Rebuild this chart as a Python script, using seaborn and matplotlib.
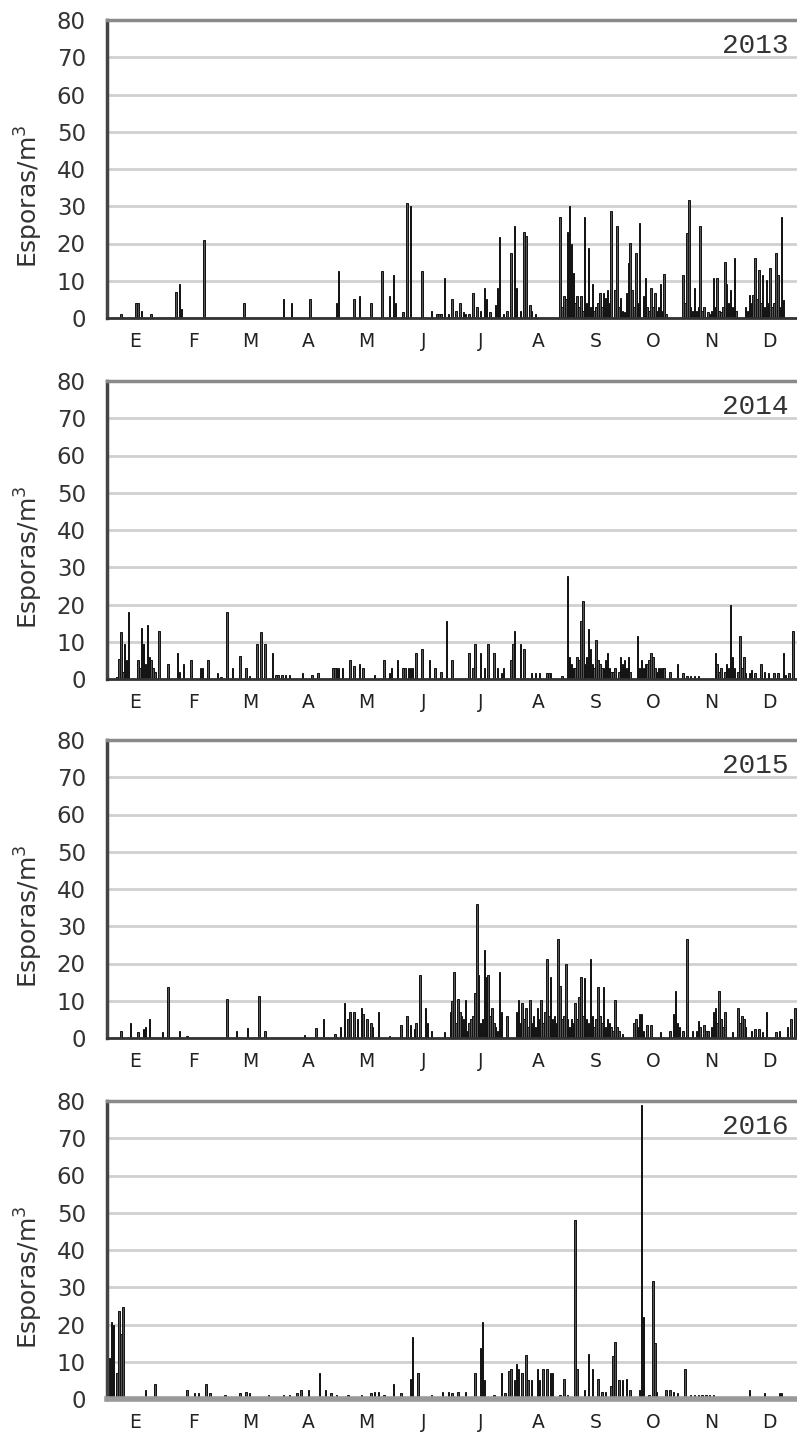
import numpy as np
import pandas as pd
import matplotlib
matplotlib.use("Agg")
import matplotlib.pyplot as plt
import seaborn as sns

years = [2013, 2014, 2015, 2016]
months = ["E", "F", "M", "A", "M", "J", "J", "A", "S", "O", "N", "D"]
n_days = 365

# daily counts (day of year, spores/m3); days not listed had no count
days_2013 = [7, 15, 16, 18, 23, 36, 38, 39, 51, 72, 93, 97, 107, 121, 122, 130, 133, 139,
             145, 149, 151, 152, 156, 158, 160, 166, 171, 174, 175, 176, 178, 180, 182, 184,
             186, 188, 189, 191, 193, 195, 197, 199, 200, 202, 205, 206, 207, 209, 211, 213,
             215, 216, 218, 220, 221, 223, 224, 226, 239, 240, 241, 242, 243, 244, 245, 246,
             247, 248, 249, 250, 251, 252, 253, 254, 255, 256, 257, 258, 259, 260, 261, 262,
             263, 264, 265, 266, 268, 269, 270, 271, 272, 273, 274, 275, 276, 277, 278, 279,
             280, 281, 283, 284, 285, 286, 287, 288, 289, 290, 291, 292, 293, 294, 295, 304,
             305, 306, 307, 308, 309, 310, 311, 312, 313, 314, 315, 317, 318, 319, 320, 321,
             322, 323, 324, 325, 326, 327, 328, 329, 330, 331, 332, 337, 338, 339, 340, 341,
             342, 343, 344, 345, 346, 347, 348, 349, 350, 351, 352, 353, 354, 355, 356, 357]
vals_2013 = [1, 4, 4, 2, 1, 7, 9, 2.5, 21, 4, 5, 4, 5, 4, 12.7, 5, 6, 4,
             12.7, 6, 11.6, 4, 1.7, 31, 30, 12.7, 2, 1, 1, 1, 10.7, 1, 5, 2,
             4, 1.5, 1, 1, 6.7, 3, 2, 8, 5, 1.5, 3.5, 8, 21.8, 1, 2, 17.5,
             24.7, 8, 2, 23, 22, 3.5, 2, 1, 27.2, 3, 6, 5, 23, 30, 20, 12,
             4, 6, 3, 6, 2, 27.2, 4, 18.8, 3, 9, 2, 3, 4, 6.7, 3, 6.7,
             5.3, 7.6, 4, 28.7, 7.6, 24.7, 3, 5.3, 2, 1.5, 6.7, 14.8, 20.2, 7.6, 3, 17.5,
             4, 25.6, 5.8, 10.7, 3, 2, 8, 3, 6.7, 2, 3, 9, 2, 11.9, 1, 11.6,
             4, 22.9, 31.7, 3, 2, 8, 2, 3, 24.7, 2, 3, 1.7, 1, 2, 10.7, 3,
             10.7, 2, 1.5, 3, 15, 9, 4, 7.6, 3, 16.1, 2, 3, 2, 6.2, 4, 6.2,
             16.1, 5, 13, 4, 11.6, 3, 10.3, 4, 13.4, 3, 4, 17.5, 11.6, 3, 27.2, 4.9]

days_2014 = [5, 6, 7, 8, 9, 10, 11, 16, 17, 18, 19, 20, 21, 22, 23, 24, 25, 27, 32, 37,
             38, 40, 44, 49, 50, 53, 58, 60, 63, 66, 70, 73, 75, 79, 81, 83, 87, 89, 90, 92,
             94, 96, 103, 108, 111, 119, 120, 121, 122, 124, 128, 130, 133, 135, 141, 146,
             149, 150, 153, 156, 157, 159, 160, 161, 163, 166, 170, 173, 176, 179, 182, 191,
             193, 194, 197, 199, 201, 204, 206, 208, 209, 213, 214, 215, 218, 220, 224, 226,
             228, 232, 233, 234, 240, 243, 244, 245, 246, 247, 248, 249, 250, 251, 252, 253,
             254, 255, 256, 257, 258, 259, 260, 261, 262, 263, 264, 265, 266, 267, 268, 270,
             271, 272, 273, 274, 275, 276, 280, 281, 282, 283, 284, 285, 286, 287, 288, 289,
             290, 291, 292, 293, 294, 297, 301, 304, 306, 308, 310, 312, 321, 322, 323, 324,
             326, 327, 328, 329, 330, 331, 333, 334, 335, 336, 337, 339, 340, 342, 345, 347,
             349, 352, 354, 357, 358, 360, 362]
vals_2014 = [0.5, 5.3, 12.6, 2, 9.5, 5, 18.1, 5, 3, 13.8, 9.5, 4, 14.6, 6, 5, 3, 2, 12.9, 4, 7,
             2, 4, 5, 3, 3, 5, 1.5, 0.5, 18.1, 3, 6.3, 3, 0.8, 9.5, 12.7, 9.5, 7.1, 1, 1, 1,
             1, 1, 1.5, 1, 1.5, 3, 3, 3, 3, 3, 5, 3.5, 4, 3, 1, 5,
             1.5, 3, 5, 3, 3, 3, 3, 3, 7, 8, 5, 3, 2, 15.7, 5, 7,
             3, 9.5, 7, 3, 9.5, 7, 3, 1.5, 3, 5, 9.5, 12.9, 9.5, 8, 1.5, 1.5,
             1.5, 1.5, 1.5, 1.5, 0.8, 27.6, 6, 4, 3, 3, 6, 5, 15.5, 20.9, 4, 6,
             13.4, 8, 4, 3, 10.5, 5, 4, 3, 3, 5, 7, 3, 2, 2, 3, 2,
             6, 4, 5, 3, 6, 2, 11.6, 3, 5, 3, 4, 4, 5, 7, 6, 3,
             2, 3, 3, 3, 3, 2, 4, 1.5, 0.8, 0.8, 0.8, 0.8, 7, 4, 2, 3,
             2, 4, 3, 20, 6, 3, 2, 11.6, 3, 6, 1.5, 1.5, 2.5, 1.5, 4, 2,
             1.5, 1.5, 1.5, 7, 1, 1.5, 12.9]

days_2015 = [7, 12, 16, 19, 20, 22, 29, 32, 38, 42, 63, 68, 74, 80, 83, 104, 110, 114, 120,
             123, 125, 127, 128, 130, 132, 134, 135, 137, 139, 140, 143, 149, 155, 158, 160,
             162, 163, 165, 168, 169, 171, 178, 181, 182, 183, 184, 185, 186, 187, 188, 189,
             190, 191, 192, 193, 194, 195, 196, 197, 198, 199, 200, 201, 202, 203, 204, 205,
             206, 207, 208, 211, 216, 217, 218, 219, 220, 221, 222, 223, 224, 225, 226, 227,
             228, 229, 230, 231, 232, 233, 234, 235, 236, 237, 238, 239, 240, 241, 242, 243,
             244, 245, 246, 247, 248, 249, 250, 251, 252, 253, 254, 255, 256, 257, 258, 259,
             260, 261, 262, 263, 264, 265, 266, 267, 268, 269, 270, 272, 278, 279, 280, 281,
             282, 283, 285, 287, 292, 297, 299, 300, 301, 302, 304, 306, 309, 311, 312, 313,
             315, 316, 317, 319, 320, 321, 322, 323, 324, 325, 326, 330, 333, 334, 335, 336,
             337, 340, 342, 344, 346, 348, 353, 355, 359, 361, 363]
vals_2015 = [1.8, 4, 1.5, 2.5, 3, 5, 1.5, 13.8, 2, 0.5, 10.5, 2, 2.8, 11.3, 2, 0.8, 2.8, 5, 1,
             3, 9.4, 5, 7, 7, 5, 8, 6.5, 5, 4, 3, 7, 0.5, 3.5, 6, 3.5,
             2.5, 4, 17, 8, 4, 2, 1.5, 7, 10, 17.6, 4, 10.6, 7, 6, 5, 10.3,
             2, 4, 5, 6, 12, 36, 17, 4, 5, 23.5, 16.5, 17, 6, 8, 4, 3,
             2, 17.6, 7, 6, 7, 10.3, 4, 9.5, 5, 8, 3, 10.3, 4, 6, 3, 8,
             5, 10.3, 4, 7, 21.3, 6, 16.5, 5, 6, 4, 26.6, 14, 5, 6, 20, 5,
             3, 5, 4, 9.5, 5, 11, 16.5, 6, 16, 5, 4, 21.3, 6, 3, 5, 13.8,
             6, 4, 13.8, 3, 5, 4, 3, 2, 10.3, 3, 2, 1, 4, 5, 3, 6.5,
             6.5, 2, 3.5, 3.5, 1.5, 2, 6.5, 12.5, 4, 3, 2, 26.6, 2, 2, 4.5, 3,
             3.5, 2, 2, 3, 7, 8, 4, 12.5, 5, 3, 7, 1.5, 8, 4, 6, 5,
             3, 2, 2.5, 2.5, 1.5, 7, 1.5, 2, 3, 5, 8]

days_2016 = [1, 2, 3, 5, 6, 7, 8, 20, 25, 42, 46, 48, 52, 54, 62, 70, 73, 75, 85, 93, 96,
             100, 102, 106, 112, 115, 118, 121, 127, 134, 139, 141, 143, 146, 151, 155, 160,
             161, 164, 171, 177, 180, 182, 185, 189, 194, 197, 198, 199, 204, 208, 210, 212,
             213, 215, 216, 217, 219, 221, 222, 224, 227, 228, 230, 232, 234, 235, 239, 241,
             243, 247, 248, 252, 254, 256, 259, 261, 263, 266, 267, 268, 270, 272, 274, 276,
             281, 282, 283, 286, 288, 289, 290, 295, 297, 299, 301, 305, 308, 310, 312, 314,
             316, 318, 320, 339, 347, 355, 356]
vals_2016 = [11, 20.8, 20, 7, 23.5, 17.5, 24.6, 2.5, 4, 2.5, 1.5, 1.5, 4, 1.5, 1, 1.5, 2, 1.5, 1, 1, 1,
             1.5, 2.5, 2.5, 7, 2.5, 1.5, 1, 1, 1, 1.5, 2, 2, 1, 4, 1.5, 5.3,
             16.7, 7, 1, 2, 2, 1.5, 2, 2, 7, 13.6, 20.6, 5, 1, 7, 1.5, 7.5,
             8, 5, 9.4, 8, 7, 11.7, 5, 5, 8, 5, 8, 8, 7, 7, 1, 5.5,
             1, 48, 8, 2.5, 12, 8, 5.5, 2, 2, 3.5, 11.5, 15.3, 5, 5, 5.5, 2.5,
             2.5, 79, 22, 1, 31.6, 15, 2, 2.5, 2.5, 2, 1.5, 8, 1.2, 1.2, 1.2, 1.2,
             1.2, 1.2, 1.2, 2.5, 1.5, 1.5, 1.5]

all_days = {2013: days_2013, 2014: days_2014, 2015: days_2015, 2016: days_2016}
all_vals = {2013: vals_2013, 2014: vals_2014, 2015: vals_2015, 2016: vals_2016}

sns.set_style("white")
plt.rcParams["font.family"] = ["DejaVu Sans"]

W, H = 797, 1439
fig = plt.figure(figsize=(W / 100, H / 100), dpi=100)

panel_tops = [20, 381, 740, 1101]
ax_left, ax_width, ax_height = 106.7, 691, 298
month_len = n_days / 12

for year, top in zip(years, panel_tops):
    ax = fig.add_axes([ax_left / W, 1 - (top + ax_height) / H, ax_width / W, ax_height / H])

    full = np.zeros(n_days)
    full[np.array(all_days[year])] = all_vals[year]
    df = pd.DataFrame({"dia": np.arange(n_days), "esporas": full})

    sns.barplot(data=df, x="dia", y="esporas", native_scale=True, ax=ax,
                color="#555555", edgecolor="#111111", linewidth=0.7,
                width=0.8, errorbar=None, saturation=1)

    ax.set_xlim(-0.5, n_days - 0.5)
    ax.set_ylim(0, 80)
    ax.set_yticks(range(0, 81, 10))
    ax.yaxis.grid(True, color="#d0d0d0", lw=2)
    ax.set_axisbelow(True)

    bounds = [-0.5 + i * month_len for i in range(12)]
    centers = [-0.5 + (i + 0.5) * month_len for i in range(12)]
    ax.set_xticks(bounds)
    ax.set_xticklabels([])
    ax.set_xticks(centers, minor=True)
    ax.set_xticklabels(months, minor=True)
    ax.tick_params(axis="x", which="major", direction="out", length=6, width=2, color="#333")
    ax.tick_params(axis="x", which="minor", length=0, pad=10, labelsize=13.5, labelcolor="#222")
    ax.tick_params(axis="y", direction="out", length=10, width=2, color="#444",
                   labelsize=16.5, pad=5, labelcolor="#333")

    ax.spines["right"].set_visible(False)
    ax.spines["top"].set_color("#8a8a8a")
    ax.spines["top"].set_linewidth(2.5)
    ax.spines["left"].set_color("#444")
    ax.spines["left"].set_linewidth(2.5)
    if year == 2016:
        ax.spines["bottom"].set_color("#999")
        ax.spines["bottom"].set_linewidth(4)
    else:
        ax.spines["bottom"].set_color("#333")
        ax.spines["bottom"].set_linewidth(2)

    ax.set_xlabel("")
    ax.set_ylabel("Esporas/m$^3$", fontsize=18, color="#333")
    ax.yaxis.set_label_coords(-0.09, 0.41)

    ax.text(0.986, 0.955, str(year), transform=ax.transAxes, ha="right", va="top",
            fontsize=20, family=["Liberation Mono", "DejaVu Sans Mono"], color="#333")

fig.savefig("out.png", dpi=100, facecolor="white")
